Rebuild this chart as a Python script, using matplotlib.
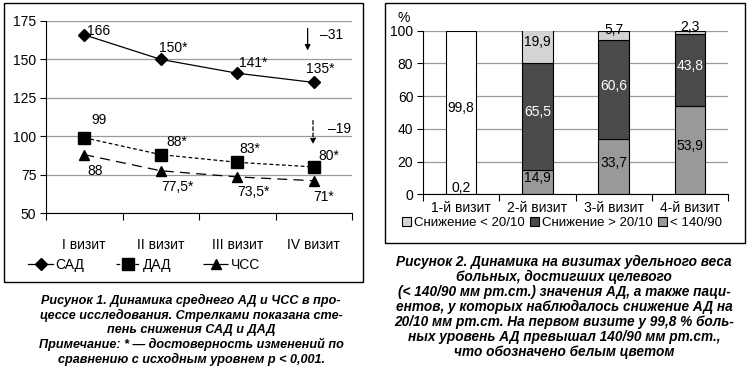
import matplotlib.pyplot as plt
from matplotlib.patches import Rectangle

plt.rcParams['font.family'] = ['Liberation Sans Narrow', 'Liberation Sans', 'DejaVu Sans']

# --- рисунок 1: динамика АД и ЧСС
visits1 = ['I визит', 'II визит', 'III визит', 'IV визит']
sad = [166, 150, 141, 135]
dad = [99, 88, 83, 80]
chss = [88, 77.5, 73.5, 71]
sad_lbl = ['166', '150*', '141*', '135*']
dad_lbl = ['99', '88*', '83*', '80*']
chss_lbl = ['88', '77,5*', '73,5*', '71*']

# --- рисунок 2: удельный вес больных
visits2 = ['1-й визит', '2-й визит', '3-й визит', '4-й визит']
below_140 = [0.2, 14.9, 33.7, 53.9]
drop_big = [0, 65.5, 60.6, 43.8]
drop_small = [0, 19.9, 5.7, 2.3]
above_140 = [99.8, 0, 0, 0]

cap1 = ('Рисунок 1. Динамика среднего АД и ЧСС в про-\n'
        'цессе исследования. Стрелками показана сте-\n'
        'пень снижения САД и ДАД\n'
        'Примечание: * — достоверность изменений по\n'
        'сравнению с исходным уровнем р < 0,001.')
cap2 = ('Рисунок 2. Динамика на визитах удельного веса\n'
        'больных, достигших целевого\n'
        '(< 140/90 мм рт.ст.) значения АД, а также паци-\n'
        'ентов, у которых наблюдалось снижение АД на\n'
        '20/10 мм рт.ст. На первом визите у 99,8 % боль-\n'
        'ных уровень АД превышал 140/90 мм рт.ст.,\n'
        'что обозначено белым цветом')

W, H = 751, 372
fig = plt.figure(figsize=(W / 100, H / 100), dpi=100)

# рамки
fig.patches.append(Rectangle((4 / W, 1 - 282 / H), 359 / W, 279 / H, transform=fig.transFigure,
                             fill=False, lw=1, ec='black'))
fig.patches.append(Rectangle((385 / W, 1 - 243 / H), 360 / W, 240 / H, transform=fig.transFigure,
                             fill=False, lw=1, ec='black'))

# ---------- левый график
ax = fig.add_axes([46 / W, 1 - 213 / H, 306 / W, 192 / H])
x = range(len(visits1))
ax.plot(x, sad, '-', color='black', lw=0.9, marker='D', ms=6, label='САД')
ax.plot(x, dad, color='black', lw=0.9, ls=(0, (3, 2)), marker='s', ms=9, label='ДАД')
ax.plot(x, chss, color='black', lw=0.9, ls=(0, (8, 5)), marker='^', ms=7, label='ЧСС')

offs_sad = [(14, 4), (12, 11), (16, 10), (7, 13)]
offs_dad = [(15, 18), (16, 13), (13, 13), (15, 11)]
offs_chss = [(11, -16), (17, -16), (16, -15), (10, -16)]
for i in x:
    ax.annotate(sad_lbl[i], (i, sad[i]), xytext=offs_sad[i], textcoords='offset pixels',
                ha='center', va='center', fontsize=10)
    ax.annotate(dad_lbl[i], (i, dad[i]), xytext=offs_dad[i], textcoords='offset pixels',
                ha='center', va='center', fontsize=10)
    ax.annotate(chss_lbl[i], (i, chss[i]), xytext=offs_chss[i], textcoords='offset pixels',
                ha='center', va='center', fontsize=10)

ax.annotate('', xy=(2.92, 154), xytext=(2.92, 172),
            arrowprops=dict(arrowstyle='-|>', color='black', lw=0.9, mutation_scale=8))
ax.text(3.08, 166, '–31', fontsize=10, va='center')
ax.annotate('', xy=(2.99, 93), xytext=(2.99, 112),
            arrowprops=dict(arrowstyle='-|>', color='black', lw=0.9, ls=(0, (3, 2)), mutation_scale=8))
ax.text(3.18, 105, '–19', fontsize=10, va='center')

ax.set_xlim(-0.5, 3.5)
ax.set_ylim(50, 175)
ax.set_yticks(range(50, 176, 25))
ax.set_xticks([i - 0.5 for i in range(5)])
ax.set_xticklabels([])
ax.set_xticks(list(x), minor=True)
ax.set_xticklabels(visits1, minor=True)
ax.tick_params(axis='x', which='minor', length=0, pad=18, labelsize=10)
ax.tick_params(axis='x', which='major', length=5, direction='out')
ax.tick_params(axis='y', length=4, labelsize=10, pad=3)
ax.grid(axis='y', color='#9a9a9a', lw=0.9)
ax.set_axisbelow(True)
for s in ['top', 'right']:
    ax.spines[s].set_visible(False)
ax.legend(loc='center left', bbox_to_anchor=(28 / W, 1 - 265 / H), bbox_transform=fig.transFigure,
          ncol=3, frameon=False, fontsize=10, borderpad=0, borderaxespad=0,
          handlelength=1.8, handletextpad=0.15, columnspacing=2.3)

fig.text(191 / W, 1 - 330 / H, cap1, ha='center', va='center', fontsize=9.1,
         fontweight='bold', fontstyle='italic', linespacing=1.2)

# ---------- правый график
ax2 = fig.add_axes([423 / W, 1 - 194.3 / H, 305 / W, 163.6 / H])
xb = range(len(visits2))
bw = 0.4
ax2.bar(xb, below_140, bw, color='#999999', ec='black', lw=0.8, label='< 140/90')
b2 = below_140
ax2.bar(xb, drop_big, bw, bottom=b2, color='#4a4a4a', ec='black', lw=0.8, label='Снижение > 20/10')
b3 = [a + b for a, b in zip(below_140, drop_big)]
ax2.bar(xb, drop_small, bw, bottom=b3, color='#d4d4d4', ec='black', lw=0.8, label='Снижение < 20/10')
b4 = [a + b for a, b in zip(b3, drop_small)]
ax2.bar([0], above_140[:1], bw, bottom=b4[:1], color='white', ec='black', lw=0.8)

def fmt(v):
    return ('%.1f' % v).replace('.', ',')

ax2.text(0, 53, fmt(above_140[0]), ha='center', va='center', fontsize=10)
ax2.text(0, 4, fmt(below_140[0]), ha='center', va='center', fontsize=10)
for i in range(1, 4):
    ax2.text(i, below_140[i] / 2 + 2.5, fmt(below_140[i]), ha='center', va='center', fontsize=10)
    ax2.text(i, b2[i] + drop_big[i] / 2 + 2.5, fmt(drop_big[i]), ha='center', va='center',
             fontsize=10, color='white')
ax2.text(1, b3[1] + drop_small[1] / 2 + 2.5, fmt(drop_small[1]), ha='center', va='center', fontsize=10)
ax2.text(2, 100.5, fmt(drop_small[2]), ha='center', va='center', fontsize=10)
ax2.text(3, 102, fmt(drop_small[3]), ha='center', va='center', fontsize=10)

ax2.set_xlim(-0.5, 3.5)
ax2.set_ylim(0, 100)
ax2.set_yticks(range(0, 101, 20))
ax2.set_xticks([i - 0.5 for i in range(5)])
ax2.set_xticklabels([])
ax2.set_xticks(list(xb), minor=True)
ax2.set_xticklabels(visits2, minor=True)
ax2.tick_params(axis='x', which='minor', length=0, pad=5, labelsize=10)
ax2.tick_params(axis='x', which='major', length=5, direction='out')
ax2.tick_params(axis='y', length=4, labelsize=10, pad=3)
ax2.grid(axis='y', color='#9a9a9a', lw=0.9)
ax2.set_axisbelow(True)
for s in ['top', 'right']:
    ax2.spines[s].set_visible(False)
ax2.text(-0.085, 1.08, '%', transform=ax2.transAxes, fontsize=10, va='center')

h, l = ax2.get_legend_handles_labels()
ax2.legend(h[::-1], l[::-1], loc='center left', bbox_to_anchor=(402 / W, 1 - 223 / H),
           bbox_transform=fig.transFigure, ncol=3, frameon=False, borderpad=0, borderaxespad=0,
           fontsize=9.5, handlelength=0.7, handleheight=0.7, handletextpad=0.2, columnspacing=0.4)

fig.text(564 / W, 1 - 307 / H, cap2, ha='center', va='center', fontsize=9.8,
         fontweight='bold', fontstyle='italic', linespacing=1.08)

fig.savefig('out.png', dpi=100)
